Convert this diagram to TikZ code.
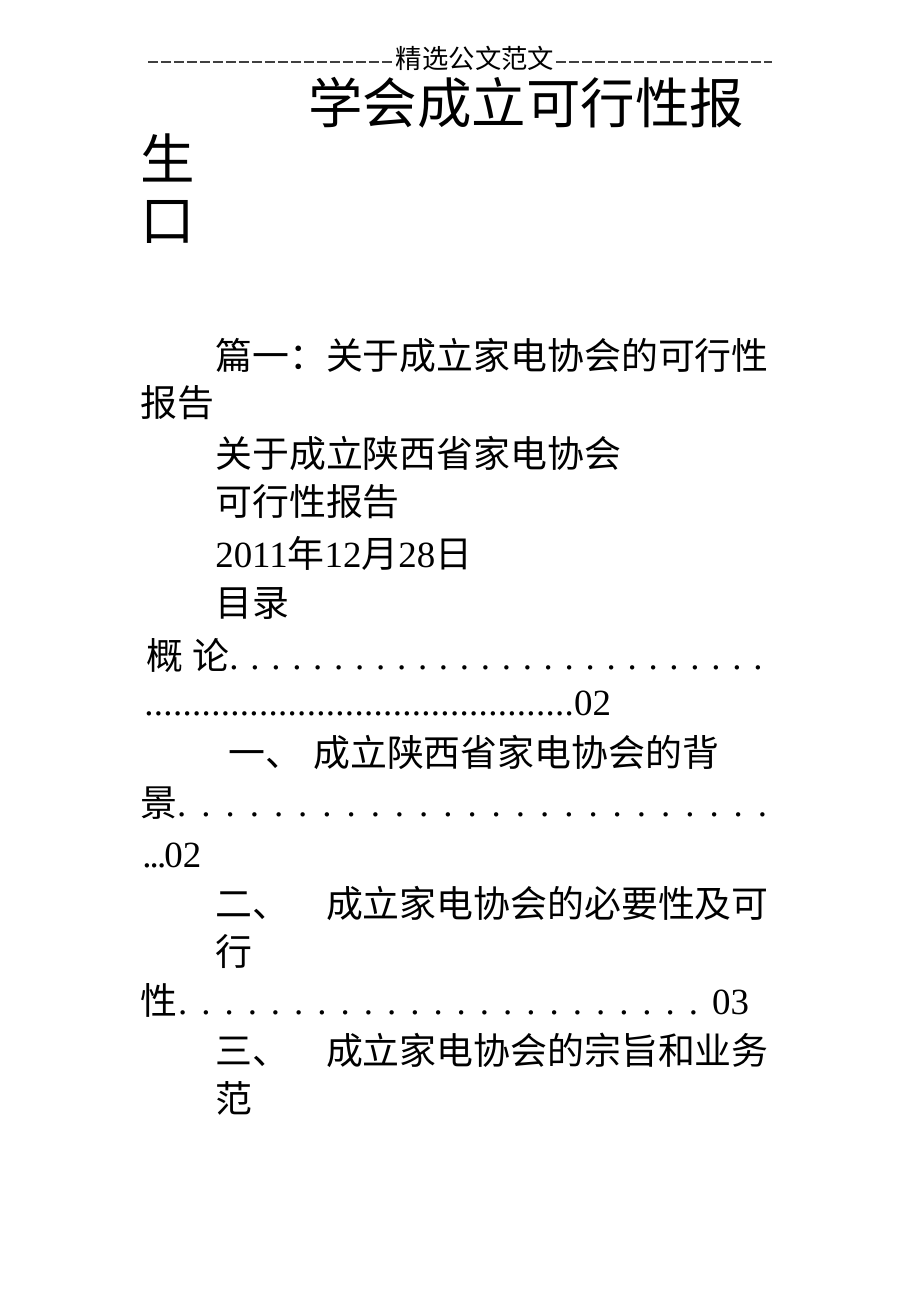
\documentclass[tikz,border=0pt]{standalone}
\usepackage{fontspec}
\setmainfont{Liberation Serif}
\newfontfamily\cjk{Noto Sans CJK SC}
\newcommand\tms[1]{{\rmfamily #1}}
\newcommand\dotrow[2]{{\rmfamily\xleaders\hbox to #2{.\hfil}\hskip #1\relax\hbox{}}}
\begin{document}
\begin{tikzpicture}[x=0.02cm,y=-0.02cm,
  txt/.style={anchor=west,inner sep=0pt,font=\cjk\fontsize{21pt}{21pt}\selectfont},
  big/.style={anchor=west,inner sep=0pt,font=\cjk\fontsize{31pt}{31pt}\selectfont},
  rule/.style={draw=black!75,line width=0.6pt,dash pattern=on 0.2cm off 0.06cm}]
\useasboundingbox (0,0) rectangle (920,1302);
% header
\node[inner sep=1pt,font=\cjk\fontsize{15pt}{15pt}\selectfont] (head) at (475,58) {精选公文范文};
\coordinate (hl) at (148,62);
\coordinate (hr) at (772,62);
\draw[rule] (hl) -- (head.west |- hl);
\draw[rule] (head.east |- hr) -- (hr);
% title
\node[big] (title) at (308,103) {学会成立可行性报};
\node[big] (t2) at (140,158) {生};
\node[big] (t3) at (140,222) {口};
% body
\node[txt] (p1) at (215,355) {篇一：关于成立家电协会的可行性};
\node[txt] (p2) at (140,403) {报告};
\node[txt] (p3) at (215,453) {关于成立陕西省家电协会};
\node[txt] (p4) at (215,502) {可行性报告};
\node[txt] (p5) at (215,553) {\tms{2011}年\tms{12}月\tms{28}日};
\node[txt] (p6) at (215,603) {目录};
% contents
\node[txt] (c1) at (146,655) {概\hspace{0.25em}论\dotrow{10.9cm}{0.418cm}};
\node[txt] (c2) at (144,703) {\dotrow{8.6cm}{0.19cm}\tms{02}};
\node[txt] (c3) at (228,752) {一、\hspace{0.3em}成立陕西省家电协会的背};
\node[txt] (c4) at (140,803) {景\dotrow{12.1cm}{0.484cm}};
\node[txt] (c5) at (142,855) {\dotrow{0.44cm}{0.146cm}\tms{02}};
\node[txt] (c6) at (215,903) {二、\hspace{1.0em}成立家电协会的必要性及可};
\node[txt] (c7) at (215,952) {行};
\node[txt] (c8) at (140,1000) {性\dotrow{10.7cm}{0.446cm}\tms{03}};
\node[txt] (c9) at (215,1050) {三、\hspace{1.0em}成立家电协会的宗旨和业务};
\node[txt] (c10) at (215,1098) {范};
\end{tikzpicture}
\end{document}
